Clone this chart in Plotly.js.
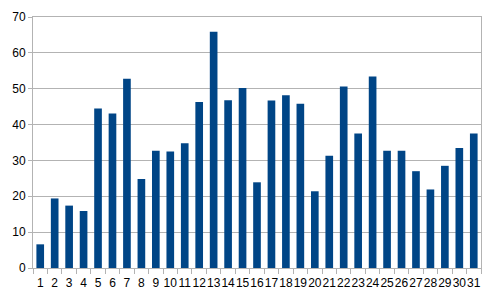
<!DOCTYPE html>
<html><head><meta charset="utf-8">
<script src="https://cdn.plot.ly/plotly-3.0.1.min.js"></script>
<style>html,body{margin:0;padding:0;background:#fff}#chart{width:500px;height:300px}</style>
</head><body><div id="chart"></div>
<script>
const categories = ["1","2","3","4","5","6","7","8","9","10","11","12","13","14","15","16","17","18","19","20","21","22","23","24","25","26","27","28","29","30","31"];
const values = [6.6,19.4,17.4,15.9,44.5,43.1,52.8,24.8,32.7,32.5,34.8,46.3,65.9,46.8,50.2,23.9,46.7,48.2,45.8,21.4,31.3,50.6,37.5,53.4,32.7,32.7,27.0,21.9,28.5,33.5,37.5];
const yTicks = [0,10,20,30,40,50,60,70];

Plotly.newPlot('chart', [{
  type: 'bar', x: categories, y: values,
  marker: {color: '#004586'}, hoverinfo: 'none'
}], {
  width: 500, height: 300,
  margin: {l: 33, r: 19, t: 17, b: 32},
  paper_bgcolor: '#fff', plot_bgcolor: '#fff',
  bargap: 0.47, showlegend: false,
  font: {family: 'Liberation Sans, Arial, sans-serif', size: 12, color: '#000'},
  xaxis: {type: 'category', showline: true, linecolor: '#b3b3b3', linewidth: 1, mirror: true,
    ticks: 'outside', tickson: 'boundaries', ticklen: 5, tickcolor: '#b3b3b3',
    showgrid: false, tickfont: {size: 12}, tickangle: 0, automargin: false, ticklabelstandoff: 4},
  yaxis: {range: [0, 70], tickvals: yTicks, showline: true, linecolor: '#b3b3b3', mirror: true,
    ticks: 'outside', ticklen: 4, tickcolor: '#b3b3b3',
    gridcolor: '#b3b3b3', zeroline: false, tickfont: {size: 12}}
}, {staticPlot: true});
</script></body></html>
